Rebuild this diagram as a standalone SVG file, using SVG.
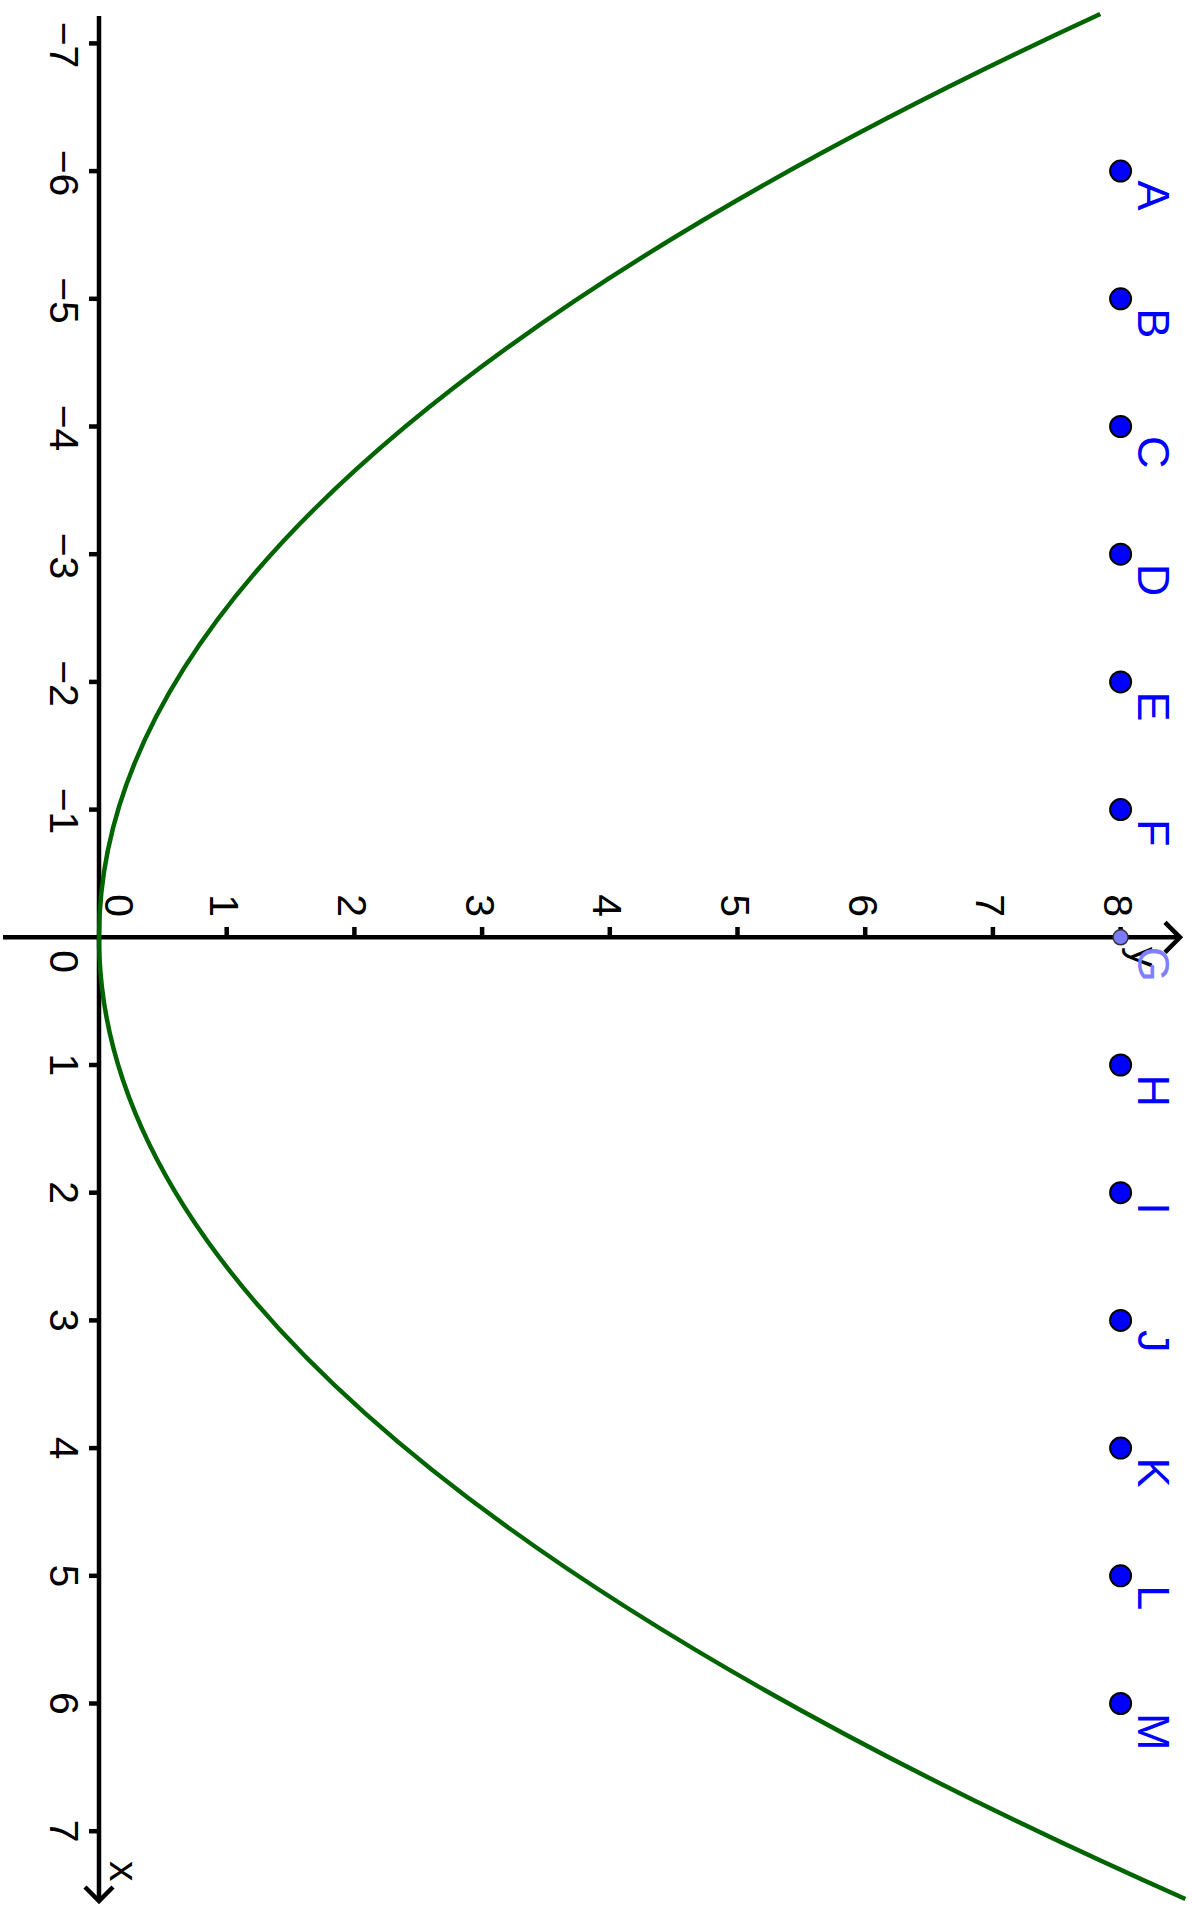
<svg xmlns="http://www.w3.org/2000/svg" width="1193" height="1906" viewBox="0 0 1193 1906">
<style>
.ax{stroke:#000;stroke-width:4.5;fill:none}
.tk{stroke:#000;stroke-width:4.5}
.num{font-family:"Liberation Sans",Arial,sans-serif;font-size:41px;fill:#000}
.lbl{font-family:"Liberation Sans",Arial,sans-serif;font-size:45px;fill:#0000FF}
.pt{fill:#0000FF;stroke:#000;stroke-width:2}
</style>
<rect width="1193" height="1906" fill="#fff"/>
<g id="axes">
<line class="ax" x1="99" y1="16" x2="99" y2="1900"/>
<polyline class="ax" points="85,1887 99,1901 113,1887"/>
<line class="ax" x1="3" y1="937.3" x2="1179" y2="937.3"/>
<polyline class="ax" points="1165,922.3 1180,937.3 1165,952.3"/>
</g>
<g id="ticks">
<line class="tk" x1="89" y1="43.4" x2="99" y2="43.4"/>
<line class="tk" x1="89" y1="171.1" x2="99" y2="171.1"/>
<line class="tk" x1="89" y1="298.8" x2="99" y2="298.8"/>
<line class="tk" x1="89" y1="426.5" x2="99" y2="426.5"/>
<line class="tk" x1="89" y1="554.2" x2="99" y2="554.2"/>
<line class="tk" x1="89" y1="681.9" x2="99" y2="681.9"/>
<line class="tk" x1="89" y1="809.6" x2="99" y2="809.6"/>
<line class="tk" x1="89" y1="1065" x2="99" y2="1065"/>
<line class="tk" x1="89" y1="1192.7" x2="99" y2="1192.7"/>
<line class="tk" x1="89" y1="1320.4" x2="99" y2="1320.4"/>
<line class="tk" x1="89" y1="1448.1" x2="99" y2="1448.1"/>
<line class="tk" x1="89" y1="1575.8" x2="99" y2="1575.8"/>
<line class="tk" x1="89" y1="1703.5" x2="99" y2="1703.5"/>
<line class="tk" x1="89" y1="1831.2" x2="99" y2="1831.2"/>
<line class="tk" x1="226.7" y1="927" x2="226.7" y2="937.3"/>
<line class="tk" x1="354.4" y1="927" x2="354.4" y2="937.3"/>
<line class="tk" x1="482.1" y1="927" x2="482.1" y2="937.3"/>
<line class="tk" x1="609.8" y1="927" x2="609.8" y2="937.3"/>
<line class="tk" x1="737.5" y1="927" x2="737.5" y2="937.3"/>
<line class="tk" x1="865.2" y1="927" x2="865.2" y2="937.3"/>
<line class="tk" x1="992.9" y1="927" x2="992.9" y2="937.3"/>
<line class="tk" x1="1120.6" y1="927" x2="1120.6" y2="937.3"/>
</g>
<g id="x-axis-labels" class="num" text-anchor="middle">
<text transform="translate(50,45) rotate(90)">−7</text>
<text transform="translate(50,173) rotate(90)">−6</text>
<text transform="translate(50,300.5) rotate(90)">−5</text>
<text transform="translate(50,428) rotate(90)">−4</text>
<text transform="translate(50,556) rotate(90)">−3</text>
<text transform="translate(50,683.5) rotate(90)">−2</text>
<text transform="translate(50,811) rotate(90)">−1</text>
<text transform="translate(50,961.7) rotate(90)">0</text>
<text transform="translate(50,1065) rotate(90)">1</text>
<text transform="translate(50,1192.7) rotate(90)">2</text>
<text transform="translate(50,1320.4) rotate(90)">3</text>
<text transform="translate(50,1448.1) rotate(90)">4</text>
<text transform="translate(50,1575.8) rotate(90)">5</text>
<text transform="translate(50,1703.5) rotate(90)">6</text>
<text transform="translate(50,1831.2) rotate(90)">7</text>
<text transform="translate(110,1861) rotate(90)" text-anchor="start">x</text>
</g>
<g id="y-axis-labels" class="num" text-anchor="end">
<text transform="translate(105,917) rotate(90)">0</text>
<text transform="translate(210.2,917) rotate(90)">1</text>
<text transform="translate(337.9,917) rotate(90)">2</text>
<text transform="translate(465.6,917) rotate(90)">3</text>
<text transform="translate(593.3,917) rotate(90)">4</text>
<text transform="translate(721,917) rotate(90)">5</text>
<text transform="translate(848.7,917) rotate(90)">6</text>
<text transform="translate(976.4,917) rotate(90)">7</text>
<text transform="translate(1104.1,917) rotate(90)">8</text>
<text transform="translate(1130,947) rotate(90)" text-anchor="start">y</text>
</g>
<g id="curve">
<path d="M1100.3,14 Q-944,956.5 1185.4,1899" fill="none" stroke="#006400" stroke-width="4.5"/>
</g>
<g id="point-A"><circle class="pt" cx="1120.6" cy="171.1" r="10.5"/><text class="lbl" transform="translate(1137.5,180.6) rotate(90)">A</text></g>
<g id="point-B"><circle class="pt" cx="1120.6" cy="298.8" r="10.5"/><text class="lbl" transform="translate(1137.5,308.3) rotate(90)">B</text></g>
<g id="point-C"><circle class="pt" cx="1120.6" cy="426.5" r="10.5"/><text class="lbl" transform="translate(1137.5,436) rotate(90)">C</text></g>
<g id="point-D"><circle class="pt" cx="1120.6" cy="554.2" r="10.5"/><text class="lbl" transform="translate(1137.5,563.7) rotate(90)">D</text></g>
<g id="point-E"><circle class="pt" cx="1120.6" cy="681.9" r="10.5"/><text class="lbl" transform="translate(1137.5,691.4) rotate(90)">E</text></g>
<g id="point-F"><circle class="pt" cx="1120.6" cy="809.6" r="10.5"/><text class="lbl" transform="translate(1137.5,819.1) rotate(90)">F</text></g>
<g id="point-G"><circle cx="1120.6" cy="937.3" r="7.5" fill="#7B7BFF" stroke="#333" stroke-width="1.5"/><text class="lbl" style="fill:#7F7FFF" transform="translate(1137.5,946.8) rotate(90)">G</text></g>
<g id="point-H"><circle class="pt" cx="1120.6" cy="1065" r="10.5"/><text class="lbl" transform="translate(1137.5,1074.5) rotate(90)">H</text></g>
<g id="point-I"><circle class="pt" cx="1120.6" cy="1192.7" r="10.5"/><text class="lbl" transform="translate(1137.5,1202.2) rotate(90)">I</text></g>
<g id="point-J"><circle class="pt" cx="1120.6" cy="1320.4" r="10.5"/><text class="lbl" transform="translate(1137.5,1329.9) rotate(90)">J</text></g>
<g id="point-K"><circle class="pt" cx="1120.6" cy="1448.1" r="10.5"/><text class="lbl" transform="translate(1137.5,1457.6) rotate(90)">K</text></g>
<g id="point-L"><circle class="pt" cx="1120.6" cy="1575.8" r="10.5"/><text class="lbl" transform="translate(1137.5,1585.3) rotate(90)">L</text></g>
<g id="point-M"><circle class="pt" cx="1120.6" cy="1703.5" r="10.5"/><text class="lbl" transform="translate(1137.5,1713) rotate(90)">M</text></g>
</svg>
